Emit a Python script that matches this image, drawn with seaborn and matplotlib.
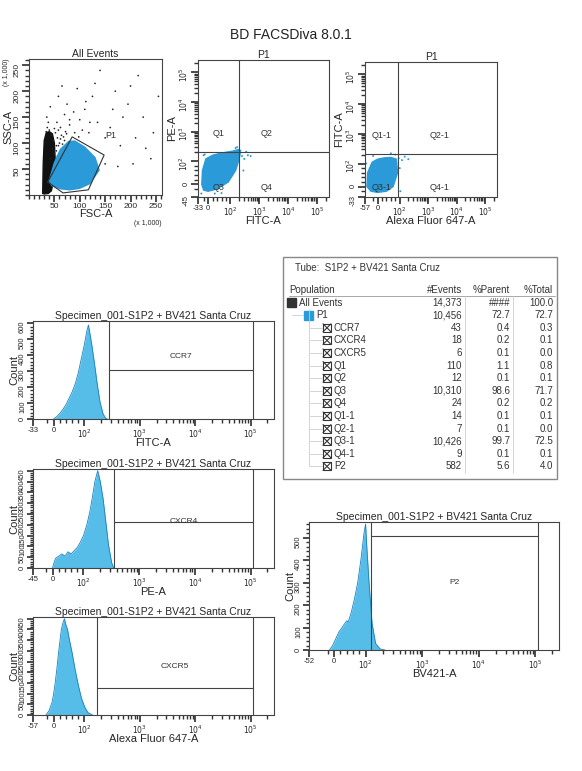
import numpy as np
import pandas as pd
import matplotlib
matplotlib.use("Agg")
import matplotlib.pyplot as plt
import seaborn as sns
from matplotlib.ticker import FixedLocator, FixedFormatter

sns.set_theme(style="white")
plt.rcParams['font.family'] = ['Liberation Sans', 'DejaVu Sans']

W, H = 582, 771
BLUE = "#2a9ad8"
HBLUE = "#55bde8"

# ---------------- data ----------------
# Plot 1 (FSC-A vs SSC-A, x1000)
p1_gate_x = [37, 85, 148, 117, 67, 37]
p1_gate_y = [25, 112, 77, 10, 4, 25]
p1_black_x = [27, 28, 30, 34, 40, 46, 50, 52, 48, 44, 38, 30, 27]
p1_black_y = [3, 60, 105, 120, 122, 118, 100, 60, 25, 8, 3, 2, 3]
p1_blue_x = [40, 50, 62, 78, 90, 110, 130, 138, 120, 100, 80, 62, 45, 40]
p1_blue_y = [28, 62, 88, 103, 104, 92, 72, 48, 22, 13, 10, 12, 18, 28]
p1_sparse_x = [35, 42, 55, 58, 62, 70, 75, 80, 88, 95, 100, 110, 118, 125, 135, 150, 160, 170, 180, 195, 205, 215, 225, 230, 240,
               150, 120, 105, 90, 140, 165, 185, 200, 210, 65, 50, 45, 80, 72, 98, 175, 245, 255, 130, 112,
               40, 44, 48, 52, 56, 60, 36, 46, 54, 64, 70, 58, 50, 42, 38, 66, 74, 34, 62, 68,
               55, 57, 53, 59, 61, 56, 54, 52, 58, 63]
p1_sparse_y = [150, 170, 140, 190, 130, 155, 175, 135, 160, 205, 145, 165, 120, 190, 140, 110, 130, 200, 95, 175, 60, 230, 150, 90, 70,
               60, 140, 125, 120, 240, 165, 150, 210, 110, 210, 128, 118, 145, 122, 112, 55, 120, 190, 215, 180,
               125, 115, 105, 120, 110, 100, 130, 90, 95, 115, 105, 125, 80, 70, 140, 98, 118, 122, 108, 112,
               40, 30, 50, 20, 60, 75, 85, 70, 95, 45]

# Plot 2 (FITC-A vs PE-A)
p2_blob_x = [-28, -25, -10, 20, 60, 120, 190, 220, 200, 150, 90, 40, 0, -20, -28]
p2_blob_y = [0, 60, 120, 160, 190, 220, 250, 210, 120, 60, 10, -20, -30, -25, 0]
p2_sparse_x = [-30, -20, 250, 300, 400, 220, 150, 500, 280, 170, 30, 350, -15, 60]
p2_sparse_y = [-40, 160, 150, 120, 160, 230, 280, 150, 60, 300, -40, 210, 170, -38]
q2_h, q2_v = 200, 200

# Plot 3 (Alexa Fluor 647-A vs FITC-A)
p3_blob_x = [-48, -45, -25, 0, 30, 60, 85, 90, 70, 40, 0, -30, -48]
p3_blob_y = [0, 60, 110, 140, 155, 160, 140, 60, 0, -20, -25, -20, 0]
p3_sparse_x = [-52, 95, 100, 120, 80, 60, 150, 200, -20, 105]
p3_sparse_y = [100, 150, 80, 130, 200, 220, 170, 140, 180, -20]
q3_h, q3_v = 210, 90

# Histograms (value, count)
h1_x = [0, 10, 20, 30, 40, 50, 60, 70, 80, 90, 100, 110, 118, 125, 135, 150, 170, 190, 215, 240, 260]
h1_y = [0, 15, 35, 60, 90, 130, 170, 220, 290, 380, 470, 550, 590, 540, 470, 360, 220, 110, 35, 5, 0]
h2_x = [0, 5, 10, 20, 30, 40, 50, 60, 70, 80, 90, 100, 115, 130, 145, 160, 180, 200, 225, 250, 280, 320, 350]
h2_y = [0, 25, 45, 55, 65, 55, 75, 65, 80, 95, 120, 150, 200, 260, 330, 400, 450, 400, 320, 220, 110, 25, 0]
h3_x = [-25, -15, -5, 0, 5, 10, 15, 20, 25, 30, 35, 40, 45, 50, 60, 70, 80, 90, 100, 115, 140]
h3_y = [0, 20, 60, 100, 150, 210, 280, 340, 400, 430, 450, 420, 400, 360, 290, 210, 140, 80, 40, 12, 0]
h4_x = [-15, -5, 5, 15, 25, 35, 40, 45, 55, 65, 75, 85, 95, 100, 105, 115, 130, 150, 180, 220]
h4_y = [0, 20, 50, 80, 100, 120, 130, 125, 170, 230, 300, 400, 520, 560, 460, 300, 120, 30, 5, 0]

# Table
pops = ["All Events", "P1", "CCR7", "CXCR4", "CXCR5", "Q1", "Q2", "Q3", "Q4", "Q1-1", "Q2-1", "Q3-1", "Q4-1", "P2"]
levels = [0, 1, 2, 2, 2, 2, 2, 2, 2, 2, 2, 2, 2, 2]
events = ["14,373", "10,456", "43", "18", "6", "110", "12", "10,310", "24", "14", "7", "10,426", "9", "582"]
pct_parent = ["####", "72.7", "0.4", "0.2", "0.1", "1.1", "0.1", "98.6", "0.2", "0.1", "0.1", "99.7", "0.1", "5.6"]
pct_total = ["100.0", "72.7", "0.3", "0.1", "0.0", "0.8", "0.1", "71.7", "0.2", "0.1", "0.0", "72.5", "0.1", "4.0"]

# ---------------- helpers ----------------
fig = plt.figure(figsize=(W / 100, H / 100), dpi=100)


def add_ax(x0, y0, x1, y1):
    ax = fig.add_axes([x0 / W, 1 - y1 / H, (x1 - x0) / W, (y1 - y0) / H])
    for s in ax.spines.values():
        s.set_color("#444444")
        s.set_linewidth(0.8)
    ax.set_facecolor("white")
    return ax


def biex(ax, which, lo, lab, ls, edge=None):
    edge = lo if edge is None else edge
    minors = [-20, 20, 40, 60, 80] + [m * 10 ** e for e in (2, 3, 4) for m in range(2, 10)] + [200000]
    labels = [str(lo), "0", r"$10^2$", r"$10^3$", r"$10^4$", r"$10^5$"]
    majors = [edge, 0, 100, 1000, 10000, 100000]
    if which == "x":
        ax.set_xscale("symlog", linthresh=100, linscale=ls)
        ax.set_xlim(edge, 262000)
        axis = ax.xaxis
        ax.set_xlabel(lab, fontsize=8, labelpad=-1)
    else:
        ax.set_yscale("symlog", linthresh=100, linscale=ls)
        ax.set_ylim(edge, 262000)
        axis = ax.yaxis
        ax.set_ylabel(lab, fontsize=8, labelpad=0)
    axis.set_major_locator(FixedLocator(majors))
    axis.set_major_formatter(FixedFormatter(labels))
    axis.set_minor_locator(FixedLocator(minors))
    kw = dict(bottom=True) if which == "x" else dict(left=True, labelrotation=90)
    ax.tick_params(axis=which, which="major", labelsize=5.5, length=5, direction="out", color="#333", pad=1, **kw)
    kw2 = dict(bottom=True) if which == "x" else dict(left=True)
    ax.tick_params(axis=which, which="minor", length=3, direction="out", color="#333", **kw2)


# ---------------- plot 1 ----------------
ax1 = add_ax(29, 59, 162, 195)
sns.scatterplot(x=p1_sparse_x, y=p1_sparse_y, ax=ax1, s=1.5, color="#222", edgecolor="none", zorder=2)
ax1.fill(p1_black_x, p1_black_y, color="#111111", zorder=1)
ax1.fill(p1_blue_x, p1_blue_y, color=BLUE, zorder=3)
ax1.plot(p1_gate_x, p1_gate_y, color="#333", lw=0.8, zorder=4)
ax1.text(150, 110, "P1", fontsize=6.5, color="#333")
ax1.set_xlim(0, 262)
ax1.set_ylim(0, 262)
ax1.set_xticks([50, 100, 150, 200, 250])
ax1.set_yticks([50, 100, 150, 200, 250])
ax1.set_xticks(range(0, 262, 10), minor=True)
ax1.set_yticks(range(0, 262, 10), minor=True)
ax1.tick_params(axis="both", which="major", labelsize=6, length=5, direction="out", bottom=True, left=True, color="#333", pad=1)
ax1.tick_params(axis="both", which="minor", length=3, direction="out", bottom=True, left=True, color="#333")
ax1.tick_params(axis="y", labelrotation=90)
ax1.set_xlabel("FSC-A", fontsize=8, labelpad=-1)
ax1.set_ylabel("SSC-A", fontsize=8, labelpad=0)
ax1.set_title("All Events", fontsize=7.5, pad=1)
fig.text(148 / W, 1 - 223 / H, "(x 1,000)", fontsize=5, ha="center", va="center")
fig.text(7 / W, 1 - 72 / H, "(x 1,000)", fontsize=5, rotation=90, ha="center", va="center")

# ---------------- plot 2 ----------------
ax2 = add_ax(198, 60, 329, 197)
biex(ax2, "x", -33, "FITC-A", 0.7, -45)
biex(ax2, "y", -45, "PE-A", 0.7, -55)
ax2.fill(p2_blob_x, p2_blob_y, color=BLUE, zorder=2)
sns.scatterplot(x=p2_sparse_x, y=p2_sparse_y, ax=ax2, s=2, color=BLUE, edgecolor="none")
ax2.axvline(q2_v, color="#444", lw=0.8)
ax2.axhline(q2_h, color="#444", lw=0.8)
for t, xx, yy in [("Q1", 20, 900), ("Q2", 1100, 900), ("Q3", 20, -15), ("Q4", 1100, -15)]:
    ax2.text(xx, yy, t, fontsize=6.5, color="#333", zorder=5, va="center")
ax2.set_title("P1", fontsize=7.5, pad=1)

# ---------------- plot 3 ----------------
ax3 = add_ax(365, 62, 497, 197)
biex(ax3, "x", -57, "Alexa Fluor 647-A", 0.7)
biex(ax3, "y", -33, "FITC-A", 0.7, -45)
ax3.fill(p3_blob_x, p3_blob_y, color=BLUE, zorder=2)
sns.scatterplot(x=p3_sparse_x, y=p3_sparse_y, ax=ax3, s=2, color=BLUE, edgecolor="none")
ax3.axvline(q3_v, color="#444", lw=0.8)
ax3.axhline(q3_h, color="#444", lw=0.8)
for t, xx, yy in [("Q1-1", -25, 900), ("Q2-1", 1100, 900), ("Q3-1", -25, -5), ("Q4-1", 1100, -5)]:
    ax3.text(xx, yy, t, fontsize=6.5, color="#333", zorder=5, va="center")
ax3.set_title("P1", fontsize=7.5, pad=1)


# ---------------- histograms ----------------
def hist(box, xs, ys, lo, edge, xlab, ymax, yt, gate, gate_y, label, label_y):
    ax = add_ax(*box)
    df = pd.DataFrame({"v": xs, "c": ys})
    ax.fill_between(df["v"], 0, df["c"], color=HBLUE, lw=0)
    sns.lineplot(data=df, x="v", y="c", ax=ax, color="#1a80c0", lw=0.6)
    biex(ax, "x", lo, xlab, 0.5, edge)
    ax.set_ylim(0, ymax)
    ax.set_yticks(yt)
    ax.set_yticks(np.arange(0, ymax, yt[1] / 5), minor=True)
    ax.tick_params(axis="y", which="major", labelsize=5.5, length=4, direction="out", left=True, color="#333", pad=1, labelrotation=90)
    ax.tick_params(axis="y", which="minor", length=2, direction="out", left=True, color="#333")
    ax.set_ylabel("Count", fontsize=8, labelpad=0)
    ax.axvline(gate[0], color="#444", lw=0.8)
    ax.axvline(gate[1], color="#444", lw=0.8)
    ax.plot(gate, [gate_y, gate_y], color="#444", lw=0.8)
    ax.text(np.sqrt(gate[0] * gate[1]), label_y, label, fontsize=6, ha="center", va="center", color="#333")
    ax.set_title("Specimen_001-S1P2 + BV421 Santa Cruz", fontsize=7.5, pad=1)
    return ax


hist((33, 321, 274, 419), h1_x, h1_y, -33, -67, "FITC-A", 615, list(range(0, 601, 100)), (280, 110000), 305, "CCR7", 390)
hist((33, 469, 274, 568), h2_x, h2_y, -45, -63, "PE-A", 458, list(range(0, 451, 50)), (360, 110000), 215, "CXCR4", 215)
hist((33, 617, 274, 715), h3_x, h3_y, -57, -67, "Alexa Fluor 647-A", 458, list(range(0, 451, 50)), (165, 110000), 128, "CXCR5", 225)
hist((309, 522, 559, 650), h4_x, h4_y, -52, -80, "BV421-A", 569, list(range(0, 501, 100)), (125, 110000), 505, "P2", 300)

# ---------------- overlay: title + table ----------------
ov = fig.add_axes([0, 0, 1, 1], zorder=10)
ov.set_xlim(0, W)
ov.set_ylim(H, 0)
ov.axis("off")
ov.patch.set_alpha(0)
ov.text(291, 35, "BD FACSDiva 8.0.1", fontsize=10, ha="center", va="center", color="#222")
ov.add_patch(plt.Rectangle((283, 257), 274, 222, fill=False, ec="#888", lw=1))
ov.text(295, 268, "Tube:  S1P2 + BV421 Santa Cruz", fontsize=7, va="center", color="#333")
ry0, dy = 290, 12.6
ov.text(289, ry0, "Population", fontsize=7, va="center", color="#333")
ov.text(462, ry0, "#Events", fontsize=7, va="center", ha="right", color="#333")
ov.text(510, ry0, "%Parent", fontsize=7, va="center", ha="right", color="#333")
ov.text(553, ry0, "%Total", fontsize=7, va="center", ha="right", color="#333")
ov.plot([289, 555], [ry0 + 6, ry0 + 6], color="#999", lw=0.6)
for xv in [465, 513]:
    ov.plot([xv, xv], [ry0 + 6, 473], color="#ccc", lw=0.6)
for i, (p, lv, e, pp, pt) in enumerate(zip(pops, levels, events, pct_parent, pct_total)):
    y = ry0 + dy * (i + 1)
    if lv == 0:
        ov.add_patch(plt.Rectangle((287, y - 4.5), 9, 9, color="#333"))
        tx = 299
    elif lv == 1:
        ov.add_patch(plt.Rectangle((304, y - 4.5), 9, 9, color=BLUE))
        ov.plot([292, 303], [y, y], color="#ccc", lw=0.6)
        tx = 316
    else:
        ov.add_patch(plt.Rectangle((323, y - 4), 8, 8, fill=False, ec="#333", lw=0.8))
        ov.plot([323, 331], [y - 4, y + 4], color="#333", lw=0.8)
        ov.plot([323, 331], [y + 4, y - 4], color="#333", lw=0.8)
        ov.plot([310, 322], [y, y], color="#ccc", lw=0.6)
        tx = 334
    ov.text(tx, y, p, fontsize=7, va="center", color="#333")
    ov.text(462, y, e, fontsize=7, va="center", ha="right", color="#333")
    ov.text(510, y, pp, fontsize=7, va="center", ha="right", color="#333")
    ov.text(553, y, pt, fontsize=7, va="center", ha="right", color="#333")
ov.plot([309, 309], [ry0 + dy * 1.5, ry0 + dy * 14], color="#ccc", lw=0.6)

fig.savefig("out.png", dpi=100, facecolor="white")
